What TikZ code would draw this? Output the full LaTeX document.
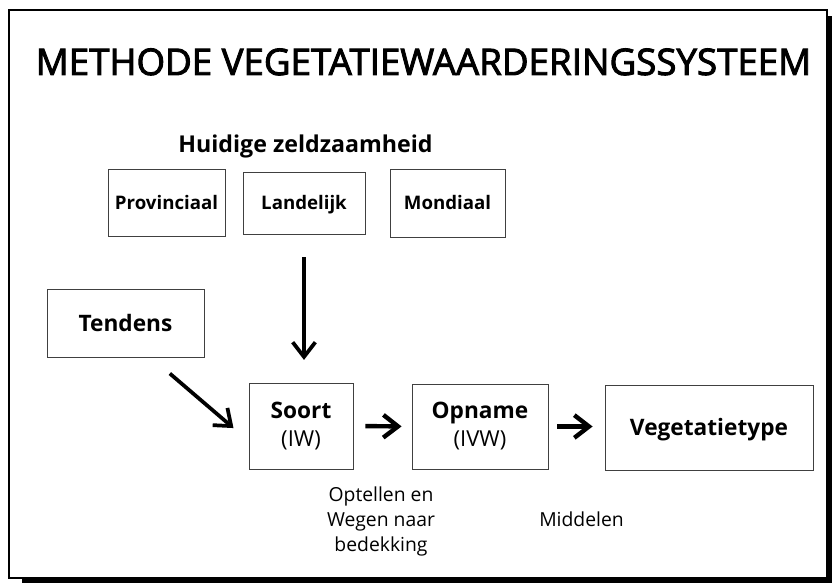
\documentclass[tikz,border=0pt]{standalone}
\usepackage{fontspec}
\setmainfont{Open Sans}
\newfontfamily\titlefont{Open Sans}[FakeBold=2.5]
\usetikzlibrary{arrows.meta}

\tikzset{every picture/.style={line width=0.75pt}}
\tikzset{
  box/.style={draw=black!75, line width=0.6pt, inner sep=0pt, align=center},
  smallbox/.style={box, font=\fontsize{14}{17}\selectfont\bfseries, text height=10pt, text depth=0pt},
  bigbox/.style={box, font=\fontsize{17}{23}\selectfont\bfseries},
  note/.style={inner sep=0pt, align=center, font=\fontsize{14.5}{18.75}\selectfont},
  arr/.style={line width=2.8pt, -{Straight Barb[length=11pt,width=17pt]}},
  harr/.style={arr, line width=3.3pt}
}
\newcommand{\sub}[1]{{\fontsize{16.5}{19}\selectfont\mdseries #1}}

\begin{document}
\begin{tikzpicture}[x=0.75pt,y=0.75pt,yscale=-1,xscale=1]
\useasboundingbox (0,0) rectangle (833,584);

% frame with shadow
\fill (827,16) rectangle (832,583);
\fill (22,578) rectangle (832,583);
\draw [line width=1.5pt] (9,10) rectangle (827,578);

\draw (423.5,75) node [anchor=base][inner sep=0pt] [font=\fontsize{27.5}{32}\titlefont] {METHODE VEGETATIEWAARDERINGSSYSTEEM};
\draw (305.5,153) node [anchor=base][inner sep=0pt] [font=\fontsize{17.4}{20}\selectfont\bfseries] {Huidige zeldzaamheid};

% huidige zeldzaamheid
\node [smallbox, minimum width=87.75pt, minimum height=50.25pt] (provinciaal) at (166.5,202.5) {Provinciaal};
\node [smallbox, minimum width=91.5pt, minimum height=46.5pt] (landelijk) at (304,203) {Landelijk};
\node [smallbox, minimum width=86.25pt, minimum height=51pt] (mondiaal) at (447.5,203) {Mondiaal};

\node [bigbox, text height=12.2pt, text depth=0pt, minimum width=117.75pt, minimum height=51pt] (tendens) at (125.5,323) {Tendens};

% keten
\node [bigbox, minimum width=78pt, minimum height=64.5pt] (soort) at (301,426) {Soort\\[-2pt]\sub{(IW)}};
\node [bigbox, minimum width=102pt, minimum height=63.75pt] (opname) at (480,426.5) {Opname\\[-2pt]\sub{(IVW)}};
\node [bigbox, text height=12.2pt, text depth=0pt, minimum width=156pt, minimum height=63.75pt] (vegetatietype) at (709,427.5) {Vegetatietype};

\draw [arr, shorten <=17pt, shorten >=17pt] (landelijk.south) -- (landelijk.south |- soort.north);
\draw [arr, shorten <=18.6pt, shorten >=14.9pt] (tendens.south -| 151,0) -- (soort.west |- 0,441);
\draw [harr, shorten <=9pt, shorten >=7.5pt] (soort.east) -- (opname.west);
\draw [harr, shorten <=6.75pt, shorten >=9pt] (opname.east) -- (vegetatietype.west |- opname.east);

\draw (381,552) node [note, anchor=base] (optellen) {Optellen en\\Wegen naar\\bedekking};
\draw (581.5,527) node [note, anchor=base] (middelen) {Middelen};

\end{tikzpicture}
\end{document}
